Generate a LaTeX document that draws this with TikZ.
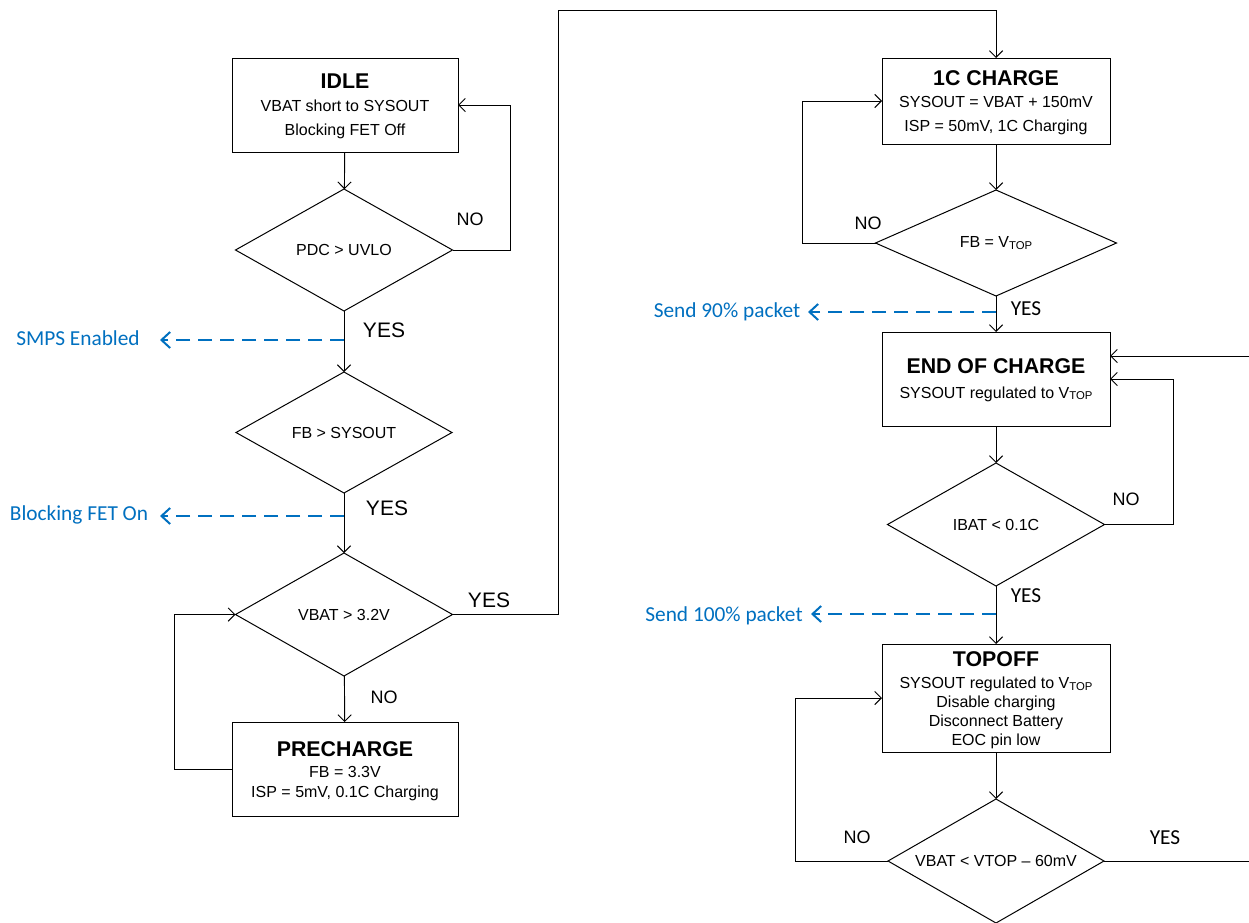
\documentclass[tikz,border=0pt]{standalone}
\usepackage{fontspec}
\setmainfont{Liberation Sans}
\newfontfamily\calfont{Carlito}
\usetikzlibrary{shapes.geometric,arrows.meta}
\definecolor{msblue}{HTML}{0070C0}
\newcommand{\Vtopsub}{V\raisebox{-1.3pt}{\fontsize{8.5}{8.5}\selectfont TOP}}
\newcommand{\ttl}[2][11.7pt]{{\rule{0pt}{#1}\fontsize{16}{16}\selectfont\bfseries #2}}
\tikzset{
  box/.style={draw, line width=0.7pt, inner sep=0pt, outer sep=0pt, align=center, minimum width=#1},
  box/.default=169.5pt,
  dia/.style={draw, diamond, line width=0.75pt, inner sep=0pt, outer sep=0pt},
  ctext/.style={font=\fontsize{12}{14}\selectfont},
  conn/.style={line width=0.7pt, -{Straight Barb[length=5pt,width=10pt]}},
  bluearr/.style={draw=msblue, line width=1.5pt, dash pattern=on 10.5pt off 6pt, -{Straight Barb[length=6.5pt,width=12pt]}},
  bluetext/.style={text=msblue, font=\calfont\fontsize{16}{16}\selectfont, inner sep=0pt},
  nolbl/.style={font=\fontsize{13.5}{13.5}\selectfont, inner sep=0pt},
  yesL/.style={font=\fontsize{15.75}{15.75}\selectfont, inner sep=0pt},
  yesR/.style={font=\calfont\fontsize{16}{16}\selectfont, inner sep=0pt}
}
\begin{document}
\begin{tikzpicture}[x=0.75pt, y=-0.75pt]
\useasboundingbox (0,0) rectangle (1249,922);
\fill[white] (0,0) rectangle (1249,922);

% left column
\node[box, minimum height=70.5pt, font=\fontsize{12}{18}\selectfont] (idle) at (345,105)
  {\ttl[13.2pt]{IDLE}\\[-1.25pt] VBAT short to SYSOUT\\ Blocking FET Off};
\node[dia, minimum width=162.75pt, minimum height=91.5pt, label={[ctext]center:PDC > UVLO}] (d1) at (344,250) {};
\node[dia, minimum width=162pt, minimum height=90.75pt, label={[ctext]center:FB > SYSOUT}] (d2) at (344,432.5) {};
\node[dia, minimum width=162.75pt, minimum height=92.25pt, label={[ctext]center:VBAT > 3.2V}] (d3) at (344,614.5) {};
\node[box, minimum height=70.5pt, font=\fontsize{12}{15}\selectfont] (pre) at (345,769)
  {\ttl[13.9pt]{PRECHARGE}\\[0.75pt] FB = 3.3V\\ ISP = 5mV, 0.1C Charging};

% right column
\node[box=171pt, minimum height=64.5pt, font=\fontsize{12}{18}\selectfont] (c1) at (996,101)
  {\ttl[13.7pt]{1C CHARGE}\\[-1.65pt] SYSOUT = VBAT + 150mV\\ ISP = 50mV, 1C Charging};
\node[dia, minimum width=180.75pt, minimum height=79.5pt, label={[ctext]center:FB = \Vtopsub}] (d4) at (996,243) {};
\node[box=171pt, minimum height=70.5pt, font=\fontsize{12}{18}\selectfont] (eoc) at (996,379)
  {\ttl[12.6pt]{END OF CHARGE}\\[0.6pt] SYSOUT regulated to \Vtopsub};
\node[dia, minimum width=162.75pt, minimum height=92.25pt, label={[ctext]center:IBAT < 0.1C}] (d5) at (996,524.5) {};
\node[box=171pt, minimum height=81pt, font=\fontsize{12}{14.25}\selectfont] (top) at (996,698)
  {\ttl[14.7pt]{TOPOFF}\\[2.05pt] SYSOUT regulated to \Vtopsub\\ Disable charging\\ Disconnect Battery\\ EOC pin low};
\node[dia, minimum width=162pt, minimum height=93pt, label={[ctext]center:VBAT < VTOP -- 60mV}] (d6) at (996,861) {};

% edge coordinates
\coordinate (rin) at (1249,356);
\coordinate (rout) at (1249,861);

% main flow
\draw[conn] (idle) -- (d1);
\draw[conn] (d1) -- (d2);
\draw[conn] (d2) -- (d3);
\draw[conn] (d3) -- (pre);
\draw[conn] (d1.east) -- ++(58,0) |- (idle.east);
\draw[conn] (pre.west) -- ++(-58,0) |- (d3.west);
\draw[conn] (d3.east) -| (558,10) -| (c1.north);
\draw[conn] (c1) -- (d4);
\draw[conn] (d4) -- (eoc);
\draw[conn] (eoc) -- (d5);
\draw[conn] (d5) -- (top);
\draw[conn] (top) -- (d6);
\draw[conn] (d4.west) -- ++(-73,0) |- (c1.west);
\draw[conn] (rin) -- (eoc.east |- rin);
\draw[conn] (d5.east) -- ++(69,0) |- (eoc.east);
\draw[conn] (d6.west) -- ++(-93,0) |- (top.west);
\draw[line width=0.7pt] (d6.east) -- (rout);

% labels
\node[nolbl] (n1) at (470,219) {NO};
\node[yesL] (y1) at (384,330) {YES};
\node[yesL] (y2) at (387,508) {YES};
\node[yesL] (y3) at (489,600) {YES};
\node[nolbl] (n3) at (384,697) {NO};
\node[nolbl] (n4) at (868,223) {NO};
\node[yesR] (y4) at (1026,309) {YES};
\node[nolbl] (n5) at (1126,499) {NO};
\node[yesR] (y5) at (1026,596) {YES};
\node[nolbl] (n6) at (857,837) {NO};
\node[yesR] (y6) at (1165,838) {YES};

% blue side notes
\coordinate (s1) at (344,340); \coordinate (e1) at (160,340);
\coordinate (s2) at (344,516); \coordinate (e2) at (160,516);
\coordinate (s3) at (996,312); \coordinate (e3) at (808,312);
\coordinate (s4) at (996,614); \coordinate (e4) at (811,614);
\node[bluetext] (b1) at (78,338) {SMPS Enabled};
\node[bluetext] (b2) at (79,514.5) {Blocking FET On};
\node[bluetext] (b3) at (727,311.5) {Send 90\% packet};
\node[bluetext] (b4) at (724,615.5) {Send 100\% packet};
\draw[bluearr] (s1) -- (e1);
\draw[bluearr] (s2) -- (e2);
\draw[bluearr] (s3) -- (e3);
\draw[bluearr] (s4) -- (e4);
\end{tikzpicture}
\end{document}
